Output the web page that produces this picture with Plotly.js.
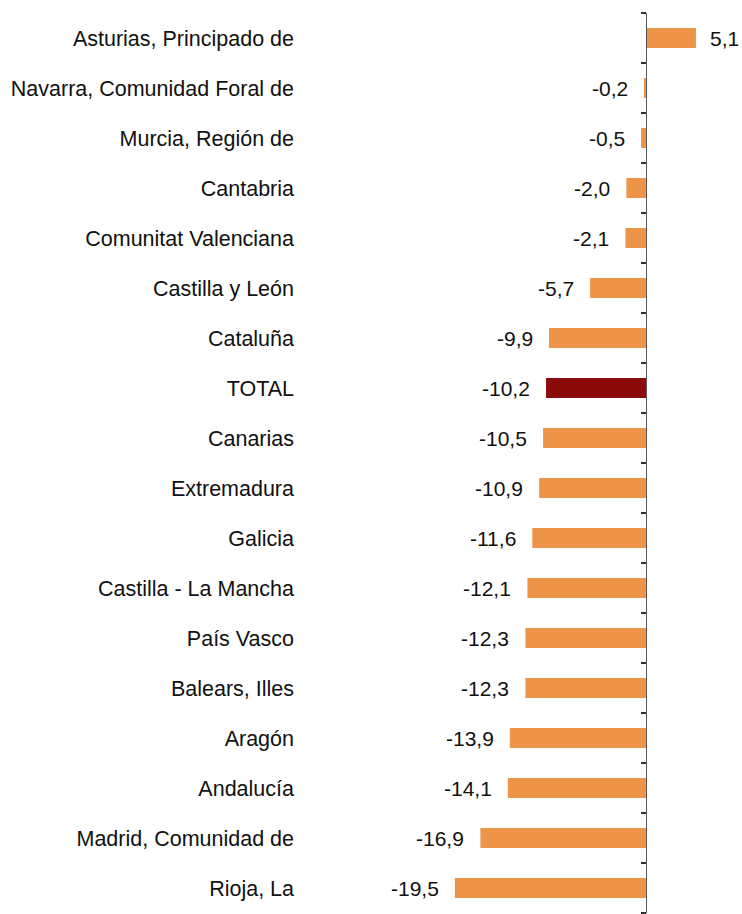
<!DOCTYPE html>
<html>
<head>
<meta charset="utf-8">
<script src="https://cdn.plot.ly/plotly-3.0.1.min.js"></script>
<style>html,body{margin:0;padding:0;background:#fff;}#chart{width:742px;height:914px;}</style>
</head>
<body>
<div id="chart"></div>
<script>
const categories = [
  "Asturias, Principado de",
  "Navarra, Comunidad Foral de",
  "Murcia, Región de",
  "Cantabria",
  "Comunitat Valenciana",
  "Castilla y León",
  "Cataluña",
  "TOTAL",
  "Canarias",
  "Extremadura",
  "Galicia",
  "Castilla - La Mancha",
  "País Vasco",
  "Balears, Illes",
  "Aragón",
  "Andalucía",
  "Madrid, Comunidad de",
  "Rioja, La"
];
const values = [5.1, -0.2, -0.5, -2.0, -2.1, -5.7, -9.9, -10.2, -10.5, -10.9, -11.6, -12.1, -12.3, -12.3, -13.9, -14.1, -16.9, -19.5];
const highlight = "TOTAL";

const orange = "#EE9449";
const darkRed = "#8B0A0A";
const xRange = [-35.31, 9.8];
const yRange = [categories.length - 0.5, -0.5];
const FONT = "'Liberation Sans', Arial, sans-serif";

const colors = categories.map(c => c === highlight ? darkRed : orange);
const labels = values.map(v => v.toFixed(1).replace('.', ','));
const boundaries = [];
for (let i = 0; i <= categories.length; i++) boundaries.push(i - 0.5);

const traces = [
  {
    type: 'bar', orientation: 'h',
    x: values, y: categories.map((c, i) => i),
    marker: {color: colors, line: {width: 0}},
    hoverinfo: 'skip', showlegend: false
  },
  {
    type: 'scatter', mode: 'markers', x: [null], y: [null], yaxis: 'y2',
    hoverinfo: 'skip', showlegend: false
  }
];

const annotations = values.map((v, i) => ({
  x: v, y: i, xref: 'x', yref: 'y',
  text: labels[i], showarrow: false,
  xanchor: v >= 0 ? 'left' : 'right',
  xshift: v >= 0 ? 12 : -14,
  font: {family: FONT, size: 21, color: '#111'}
}));

const layout = {
  width: 742, height: 914,
  margin: {l: 300, r: 0, t: 13, b: 1, pad: 0},
  paper_bgcolor: '#fff', plot_bgcolor: '#fff',
  bargap: 0.6,
  showlegend: false,
  xaxis: {range: xRange, showgrid: false, zeroline: false, showline: false,
          showticklabels: false, ticks: '', fixedrange: true},
  yaxis: {range: yRange, tickmode: 'array',
          tickvals: categories.map((c, i) => i), ticktext: categories,
          showgrid: false, zeroline: false, showline: false, ticks: '',
          ticklabelstandoff: 5,
          tickfont: {family: FONT, size: 21.5, color: '#111'}},
  yaxis2: {overlaying: 'y', anchor: 'free', side: 'left',
           position: (0 - xRange[0]) / (xRange[1] - xRange[0]),
           range: yRange, tickmode: 'array', tickvals: boundaries,
           showticklabels: false, ticks: 'outside', ticklen: 5, tickwidth: 1.5,
           tickcolor: '#333', showline: true, linecolor: '#555', linewidth: 1.5,
           showgrid: false, zeroline: false},
  annotations: annotations
};

Plotly.newPlot('chart', traces, layout, {displayModeBar: false, staticPlot: true});
</script>
</body>
</html>
